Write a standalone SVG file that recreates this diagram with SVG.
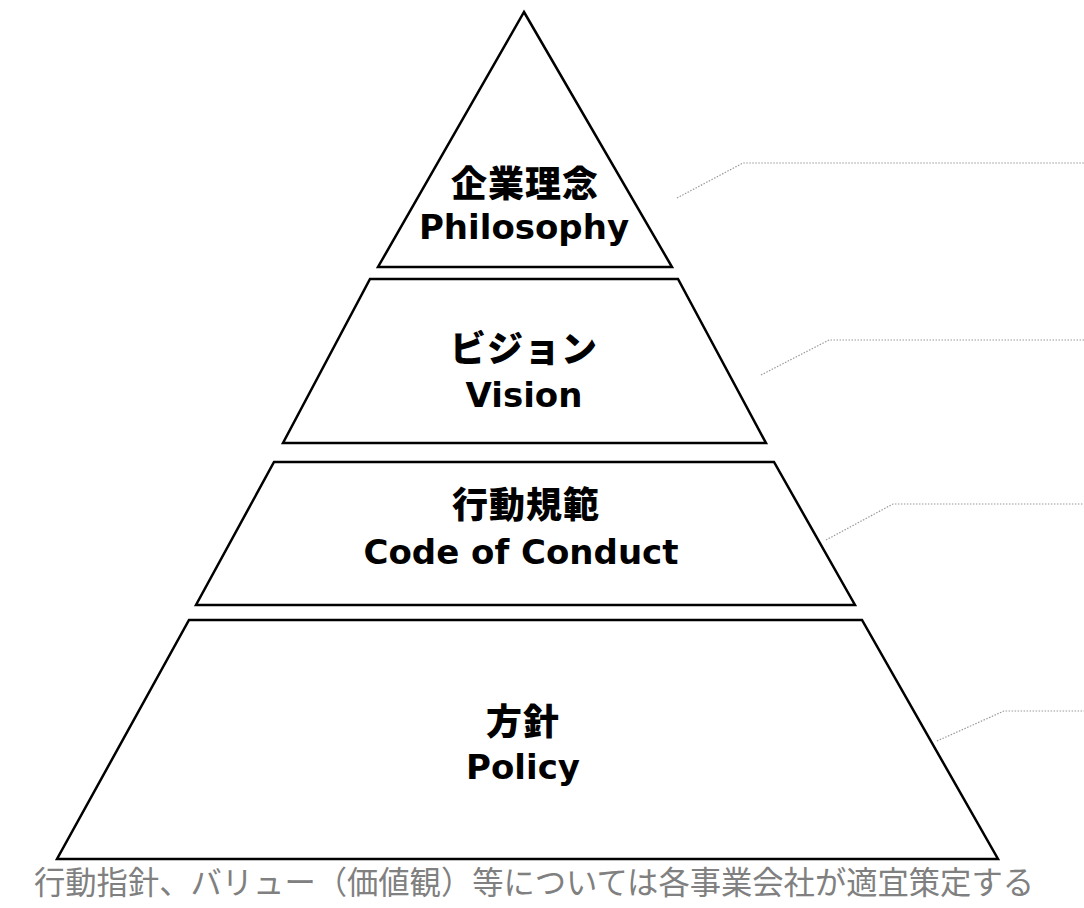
<svg xmlns="http://www.w3.org/2000/svg" width="1084" height="908" viewBox="0 0 1084 908">
<style>
.layer{fill:#fff;stroke:#000;stroke-width:2.5;stroke-linejoin:miter}
.jp{font-family:"Noto Sans CJK JP",sans-serif;font-weight:900;font-size:36px;fill:#000;text-anchor:middle;letter-spacing:1px}
.en{font-family:"DejaVu Sans",sans-serif;font-weight:bold;font-size:34px;fill:#000;text-anchor:middle}
.lead{fill:none;stroke:#999;stroke-width:1.2;stroke-dasharray:1.5 1.5}
.cap{font-family:"Noto Sans CJK JP",sans-serif;font-size:32px;fill:#808080}
</style>
<rect width="1084" height="908" fill="#fff"/>
<g id="philosophy">
<polygon class="layer" points="524,12 672,267 378,267"/>
<text class="jp" x="525" y="197">企業理念</text>
<text class="en" x="524" y="239">Philosophy</text>
</g>
<g id="vision">
<polygon class="layer" points="370,279 678,279 766,443 283,443"/>
<text class="jp" x="524" y="362">ビジョン</text>
<text class="en" x="524" y="407">Vision</text>
</g>
<g id="code-of-conduct">
<polygon class="layer" points="274,462 774,462 855,605 196,605"/>
<text class="jp" x="526" y="518">行動規範</text>
<text class="en" x="521" y="564">Code of Conduct</text>
</g>
<g id="policy">
<polygon class="layer" points="189,620 862,620 998,859 57,859"/>
<text class="jp" x="523" y="735">方針</text>
<text class="en" x="523" y="779">Policy</text>
</g>
<g id="connectors">
<polyline class="lead" points="677,198 743,163 1084,163"/>
<polyline class="lead" points="761,375 829,340 1084,340"/>
<polyline class="lead" points="826,540 893,504 1084,504"/>
<polyline class="lead" points="937,741 1004,711 1084,711"/>
</g>
<g id="caption">
<text class="cap" x="34" y="894" textLength="1000" lengthAdjust="spacingAndGlyphs">行動指針、バリュー（価値観）等については各事業会社が適宜策定する</text>
</g>
</svg>
